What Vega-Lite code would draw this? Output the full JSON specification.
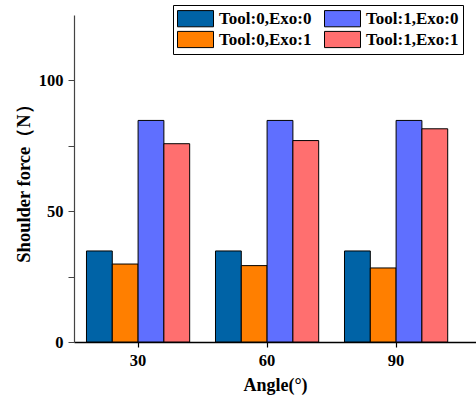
{
  "$schema": "https://vega.github.io/schema/vega-lite/v6.json",
  "width": 402,
  "height": 327,
  "autosize": {"type": "none"},
  "padding": {"left": 74, "top": 15, "right": 0, "bottom": 63},
  "background": "white",
  "config": {
    "view": {"stroke": null},
    "font": "Liberation Serif"
  },
  "data": {
    "values": [
      {"angle": "30", "group": "Tool:0,Exo:0", "force": 34.8},
      {"angle": "30", "group": "Tool:0,Exo:1", "force": 29.8},
      {"angle": "30", "group": "Tool:1,Exo:0", "force": 84.7},
      {"angle": "30", "group": "Tool:1,Exo:1", "force": 75.8},
      {"angle": "60", "group": "Tool:0,Exo:0", "force": 34.8},
      {"angle": "60", "group": "Tool:0,Exo:1", "force": 29.2},
      {"angle": "60", "group": "Tool:1,Exo:0", "force": 84.7},
      {"angle": "60", "group": "Tool:1,Exo:1", "force": 77.0},
      {"angle": "90", "group": "Tool:0,Exo:0", "force": 34.8},
      {"angle": "90", "group": "Tool:0,Exo:1", "force": 28.3},
      {"angle": "90", "group": "Tool:1,Exo:0", "force": 84.7},
      {"angle": "90", "group": "Tool:1,Exo:1", "force": 81.5}
    ]
  },
  "mark": {"type": "bar", "stroke": "black", "strokeWidth": 1},
  "encoding": {
    "x": {
      "field": "angle",
      "type": "ordinal",
      "sort": ["30", "60", "90"],
      "scale": {"paddingInner": 0.2, "paddingOuter": 0.158, "align": 0.306},
      "axis": {
        "title": "Angle(°)",
        "titleFont": "Liberation Serif",
        "titleFontWeight": "bold",
        "titleFontSize": 18,
        "titleColor": "black",
        "titlePadding": 8,
        "labelFont": "Liberation Serif",
        "labelFontWeight": "bold",
        "labelFontSize": 16.5,
        "labelColor": "black",
        "labelAngle": 0,
        "labelPadding": 5,
        "domainColor": "black",
        "domainWidth": 1.5,
        "tickColor": "black",
        "tickSize": 5,
        "tickWidth": 1.2
      }
    },
    "xOffset": {
      "field": "group",
      "type": "nominal",
      "sort": ["Tool:0,Exo:0", "Tool:0,Exo:1", "Tool:1,Exo:0", "Tool:1,Exo:1"],
      "scale": {"paddingInner": 0, "paddingOuter": 0}
    },
    "y": {
      "field": "force",
      "type": "quantitative",
      "scale": {"domain": [0, 125], "nice": false},
      "axis": {
        "title": "Shoulder force（N）",
        "titleFont": "Liberation Serif",
        "titleFontWeight": "bold",
        "titleFontSize": 18.5,
        "titleColor": "black",
        "titlePadding": 5,
        "values": [0, 25, 50, 75, 100],
        "labelExpr": "datum.value % 50 === 0 ? datum.label : ''",
        "labelFont": "Liberation Serif",
        "labelFontWeight": "bold",
        "labelFontSize": 16.5,
        "labelColor": "black",
        "labelPadding": 5,
        "grid": false,
        "domainColor": "#444",
        "domainWidth": 1.2,
        "tickColor": "#444",
        "tickSize": 6,
        "tickWidth": 1
      }
    },
    "color": {
      "field": "group",
      "type": "nominal",
      "scale": {
        "domain": ["Tool:0,Exo:0", "Tool:1,Exo:0", "Tool:0,Exo:1", "Tool:1,Exo:1"],
        "range": ["#0063A6", "#5F6FFF", "#FF7F00", "#FF6F6F"]
      },
      "legend": {
        "title": null,
        "orient": "none",
        "legendX": 99,
        "legendY": -10,
        "direction": "horizontal",
        "columns": 2,
        "columnPadding": 10,
        "rowPadding": 0,
        "padding": 4,
        "strokeColor": "black",
        "fillColor": "white",
        "symbolType": "M-1,-0.9H3V0.9H-1Z",
        "symbolSize": 324,
        "symbolStrokeColor": "black",
        "symbolStrokeWidth": 1,
        "symbolOpacity": 1,
        "labelFont": "Liberation Serif",
        "labelFontWeight": "bold",
        "labelFontSize": 17,
        "labelColor": "black",
        "labelOffset": 23,
        "labelLimit": 200
      }
    }
  }
}
